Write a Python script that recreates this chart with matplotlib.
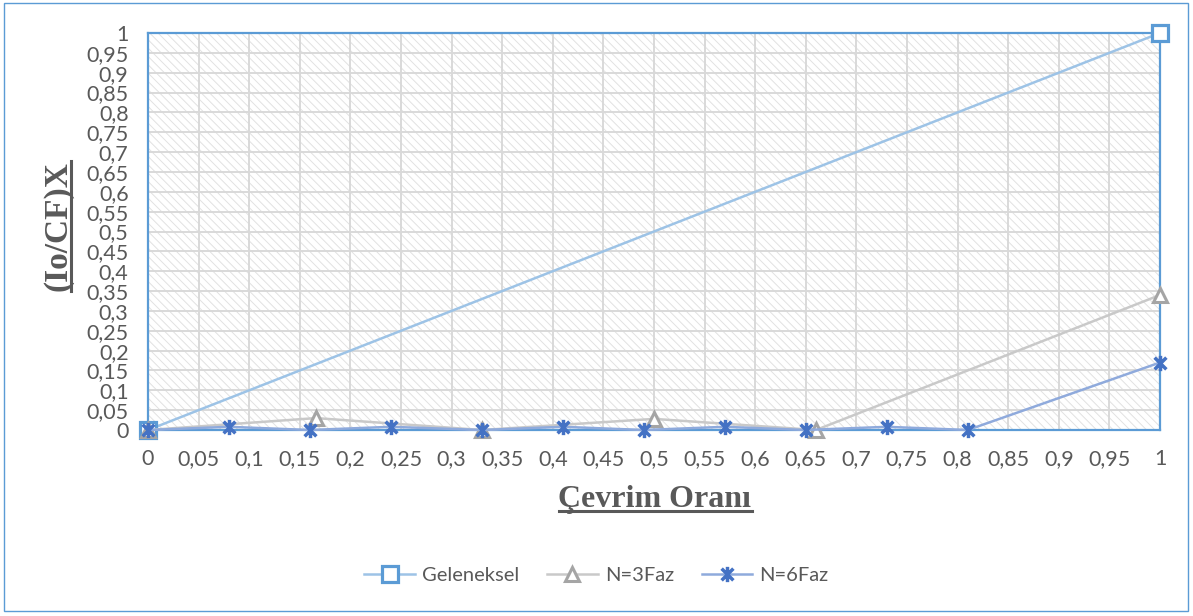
import numpy as np
import matplotlib
matplotlib.use("Agg")
import matplotlib.pyplot as plt
from matplotlib.path import Path
from matplotlib.patches import Rectangle
from matplotlib.lines import Line2D

# data
x_gel = [0, 1]
y_gel = [0, 1]
x_n3 = [0, 0.166, 0.33, 0.5, 0.66, 1]
y_n3 = [0, 0.03, 0, 0.028, 0, 0.34]
x_n6 = [0, 0.08, 0.16, 0.24, 0.33, 0.41, 0.49, 0.57, 0.65, 0.73, 0.81, 1]
y_n6 = [0, 0.008, 0, 0.008, 0, 0.008, 0, 0.008, 0, 0.008, 0, 0.17]
series_names = ["Geleneksel", "N=3Faz", "N=6Faz"]
tick_vals = np.round(np.arange(0, 1.0001, 0.05), 2)
tick_labels = [f"{v:g}".replace(".", ",") for v in tick_vals]

txt_col = "#595959"
tick_font = "Lato"

# excel style star: x plus vertical bar
star = Path([(-1, -1), (1, 1), (-1, 1), (1, -1), (0, -1.3), (0, 1.3)],
            [Path.MOVETO, Path.LINETO, Path.MOVETO, Path.LINETO, Path.MOVETO, Path.LINETO])

plt.rcParams["hatch.linewidth"] = 0.7

fig = plt.figure(figsize=(11.93, 6.16), dpi=100)
ax = fig.add_axes([148 / 1193, 1 - 430 / 616, (1160 - 148) / 1193, (430 - 33) / 616])

# hatched plot area
bg = Rectangle((0, 0), 1, 1, transform=ax.transAxes, facecolor="white",
               edgecolor="#E2E2E2", hatch="\\\\\\\\", lw=0, zorder=0)
ax.add_patch(bg)

ax.plot(x_gel, y_gel, color="#9DC3E6", lw=1.8, marker="s", ms=11, mew=2.3,
        mfc="white", mec="#5B9BD5", label=series_names[0], clip_on=False, zorder=3)
ax.plot(x_n3, y_n3, color="#C9C9C9", lw=1.8, marker="^", ms=10, mew=2.2,
        mfc="white", mec="#A5A5A5", label=series_names[1], clip_on=False, zorder=4)
ax.plot(x_n6, y_n6, color="#8FAADC", lw=1.8, marker=star, ms=11, mew=2.5,
        mfc="none", mec="#4472C4", label=series_names[2], clip_on=False, zorder=5)

ax.set_xlim(0, 1)
ax.set_ylim(0, 1)
ax.set_xticks(tick_vals)
ax.set_xticklabels(tick_labels)
ax.set_yticks(tick_vals)
ax.set_yticklabels(tick_labels)
ax.tick_params(length=0, labelsize=15.5, colors=txt_col)
ax.tick_params(axis="x", pad=14)
ax.tick_params(axis="y", pad=14)
for lab in ax.get_xticklabels() + ax.get_yticklabels():
    lab.set_family(tick_font)
ax.grid(True, color="#D9D9D9", lw=1.4, zorder=1)
ax.set_axisbelow(True)
for s in ax.spines.values():
    s.set_color("#5B9BD5")
    s.set_linewidth(1.6)
    s.set_zorder(2)

# axis titles (bold, underlined)
xl = fig.text(655 / 1193, 1 - 499 / 616, "Çevrim Oranı", family="Liberation Serif",
              weight="bold", fontsize=23, color=txt_col, ha="center", va="center")
yl = fig.text(58 / 1193, 1 - 226 / 616, "(Io/CF)X", family="Liberation Serif",
              weight="bold", fontsize=24, color=txt_col, ha="center", va="center",
              rotation=90)

leg = fig.legend(loc="center", bbox_to_anchor=(0.5, 1 - 575 / 616), ncol=3,
                 frameon=False, handlelength=2.5, handletextpad=0.35,
                 columnspacing=1.4, prop={"family": tick_font, "size": 14.5})
for t in leg.get_texts():
    t.set_color(txt_col)

# figure border
fig.patches.append(Rectangle((4 / 1193, 5 / 616), 1184 / 1193, 608 / 616,
                             transform=fig.transFigure, fill=False,
                             edgecolor="#5B9BD5", lw=1))

# underline the axis titles
fig.canvas.draw()
r = fig.canvas.get_renderer()
W, H = fig.bbox.width, fig.bbox.height
bb = xl.get_window_extent(r)
uy = bb.y0 + 3
fig.add_artist(Line2D([bb.x0 / W, bb.x1 / W], [uy / H, uy / H], color=txt_col, lw=2.2))
bb = yl.get_window_extent(r)
ux = bb.x1 - 3
fig.add_artist(Line2D([ux / W, ux / W], [bb.y0 / H, bb.y1 / H], color=txt_col, lw=2.2))

fig.savefig("out.png", dpi=100)
